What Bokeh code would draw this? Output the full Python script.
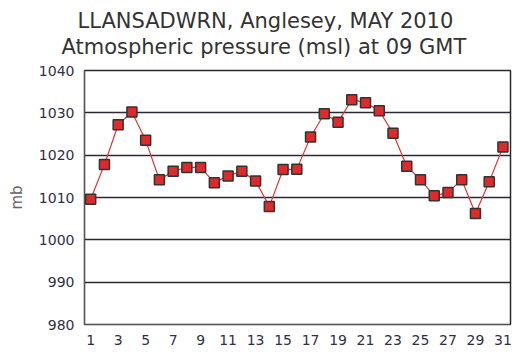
from bokeh.plotting import figure
from bokeh.models import FixedTicker, Range1d, Title
from bokeh.embed import file_html
from bokeh.resources import INLINE

days = list(range(1, 32))
pressure = [1009.6, 1017.8, 1027.2, 1030.2, 1023.5, 1014.2, 1016.2, 1017.1, 1017.1, 1013.5,
            1015.1, 1016.2, 1013.9, 1007.9, 1016.6, 1016.7, 1024.3, 1029.8, 1027.8, 1033.1,
            1032.4, 1030.5, 1025.2, 1017.4, 1014.2, 1010.4, 1011.2, 1014.2, 1006.2, 1013.7,
            1021.9]
x_ticks = list(range(1, 32, 2))
y_ticks = list(range(980, 1041, 10))
title_line1 = "LLANSADWRN, Anglesey,  MAY 2010"
title_line2 = "Atmospheric pressure  (msl) at 09 GMT"

p = figure(width=516, height=347, output_backend="svg", toolbar_location=None,
           x_range=Range1d(0.55, 31.55), y_range=Range1d(980, 1040),
           min_border_left=84, min_border_right=6, min_border_top=70, min_border_bottom=18)
p.title = None
t2 = Title(text=title_line2, align="left", text_font="DejaVu Sans", text_font_size="21px",
           text_font_style="normal", text_color="#333333", offset=-23, standoff=24)
t1 = Title(text=title_line1, align="left", text_font="DejaVu Sans", text_font_size="21px",
           text_font_style="normal", text_color="#333333", offset=-7, standoff=-25)
p.add_layout(t2, "above")
p.add_layout(t1, "above")

p.background_fill_color = "white"
p.border_fill_color = "white"
p.outline_line_color = "#2a2a35"
p.outline_line_width = 1.5

p.xgrid.visible = False
p.ygrid.ticker = FixedTicker(ticks=y_ticks)
p.ygrid.grid_line_color = "#2a2a35"
p.ygrid.grid_line_width = 1.3

p.xaxis.ticker = FixedTicker(ticks=x_ticks)
p.yaxis.ticker = FixedTicker(ticks=y_ticks)
for ax in [p.xaxis, p.yaxis]:
    ax.axis_line_color = "#555555"
    ax.major_tick_line_color = None
    ax.minor_tick_line_color = None
    ax.major_label_text_font = "DejaVu Sans"
    ax.major_label_text_font_size = "14px"
    ax.major_label_text_color = "#303045"
p.xaxis.major_label_standoff = 4
p.yaxis.major_label_standoff = 4
p.yaxis.axis_label = "mb"
p.yaxis.axis_label_text_font = "DejaVu Sans"
p.yaxis.axis_label_text_font_size = "15px"
p.yaxis.axis_label_text_font_style = "normal"
p.yaxis.axis_label_text_color = "#666666"
p.yaxis.axis_label_standoff = 10

p.line(days, pressure, line_color="#e03535", line_width=1.2)
p.scatter(days, pressure, marker="square", size=10, fill_color="#dd2a2a",
          line_color="#333333", line_width=1.5)

open("out.html", "w").write(file_html(p, INLINE))
